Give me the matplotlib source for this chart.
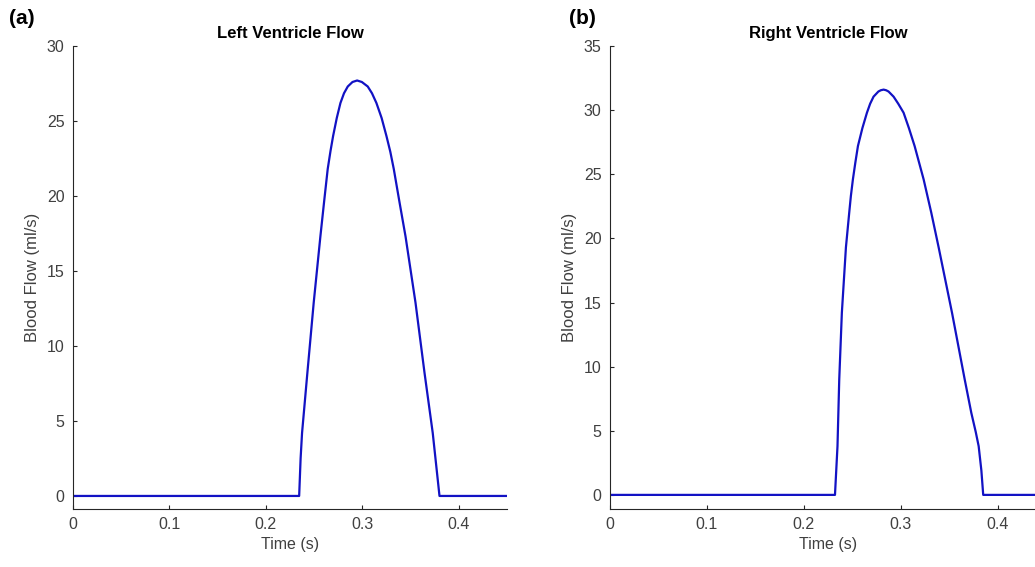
import matplotlib.pyplot as plt

plt.rcParams['font.family'] = ['Liberation Sans', 'DejaVu Sans']

# Left ventricle flow (time in s, flow in ml/s)
t_left = [0, 0.2345, 0.2360, 0.2375, 0.2430, 0.2496, 0.2565, 0.2605, 0.2641,
          0.2670, 0.2697, 0.2735, 0.2773, 0.2810, 0.2849, 0.2898, 0.2946,
          0.2995, 0.3056, 0.3100, 0.3146, 0.3200, 0.3250, 0.3290, 0.3326,
          0.3385, 0.3448, 0.3551, 0.3645, 0.3730, 0.3800, 0.45]
flow_left = [0, 0, 2.5, 4.2, 8.2, 12.9, 17.3, 19.7, 21.8,
             23.0, 24.0, 25.2, 26.2, 26.85, 27.3, 27.6, 27.7,
             27.6, 27.3, 26.85, 26.2, 25.2, 24.0, 22.95, 21.8,
             19.6, 17.3, 12.9, 8.2, 4.2, 0, 0]

# Right ventricle flow
t_right = [0, 0.2322, 0.2348, 0.2366, 0.2393, 0.2435, 0.2469, 0.2486, 0.2507,
           0.2532, 0.2559, 0.2605, 0.2652, 0.2685, 0.2720, 0.2770, 0.2795,
           0.2824, 0.2850, 0.2875, 0.2927, 0.2975, 0.3030, 0.3085, 0.3144,
           0.3237, 0.3316, 0.3392, 0.3530, 0.3661, 0.3729, 0.3775, 0.3805,
           0.3833, 0.3852, 0.45]
flow_right = [0, 0, 3.8, 9.0, 14.2, 19.3, 22.0, 23.3, 24.6,
              25.9, 27.2, 28.6, 29.8, 30.5, 31.05, 31.45, 31.55,
              31.6, 31.55, 31.45, 31.05, 30.5, 29.8, 28.6, 27.2,
              24.6, 22.0, 19.3, 14.2, 9.0, 6.4, 4.9, 3.8,
              1.9, 0, 0]

ax_col = '#262626'
tick_col = '#404040'
line_col = '#1212c4'

fig = plt.figure(figsize=(10.35, 5.67), dpi=100)
ax1 = fig.add_axes([73/1035, 58/567, 434/1035, 463/567])
ax2 = fig.add_axes([610/1035, 58/567, 436/1035, 463/567])

panels = [
    (ax1, t_left, flow_left, 'Left Ventricle Flow', (-0.87, 30), range(0, 31, 5), '(a)', 9),
    (ax2, t_right, flow_right, 'Right Ventricle Flow', (-1.1, 35), range(0, 36, 5), '(b)', 569),
]

for ax, t, f, title, ylim, yticks, tag, tag_x in panels:
    ax.plot(t, f, color=line_col, lw=1.6)
    ax.set_xlim(0, 0.45)
    ax.set_ylim(*ylim)
    ax.set_xticks([0, 0.1, 0.2, 0.3, 0.4])
    ax.set_xticklabels(['0', '0.1', '0.2', '0.3', '0.4'])
    ax.set_yticks(list(yticks))
    ax.spines['top'].set_visible(False)
    ax.spines['right'].set_visible(False)
    for s in ['left', 'bottom']:
        ax.spines[s].set_color(ax_col)
        ax.spines[s].set_linewidth(0.8)
    ax.tick_params(direction='in', length=3, width=0.8, color=ax_col,
                   labelcolor=tick_col, labelsize=11.5, pad=6)
    ax.set_xlabel('Time (s)', fontsize=11.5, color=tick_col, labelpad=3)
    ax.set_ylabel('Blood Flow (ml/s)', fontsize=12, color=tick_col, labelpad=5)
    ax.set_title(title, fontsize=12, fontweight='bold', color='black', pad=6)
    fig.text(tag_x / 1035, 1 - 19 / 567, tag, fontsize=15, fontweight='bold',
             va='center', ha='left')

fig.savefig('out.png', dpi=100)
